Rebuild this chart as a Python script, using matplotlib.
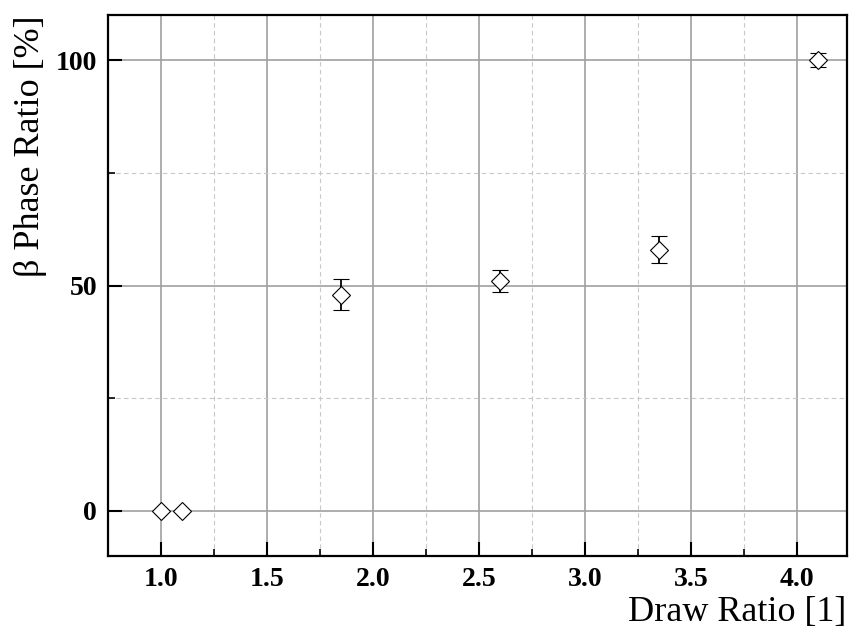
import numpy as np
import matplotlib.pyplot as plt
from matplotlib.ticker import MultipleLocator

# data
draw_ratio = [1.0, 1.1, 1.85, 2.6, 3.35, 4.1]
beta_phase = [0, 0, 48, 51, 58, 100]
beta_err = [0, 0, 3.5, 2.5, 3.0, 1.5]

plt.rcParams['font.family'] = ['Liberation Serif', 'DejaVu Serif']

fig = plt.figure(figsize=(8.51, 6.29), dpi=100)
ax = fig.add_axes([0.127, 0.116, 0.868, 0.860])

ax.errorbar(draw_ratio, beta_phase, yerr=beta_err, fmt='D', markersize=9,
            markerfacecolor='white', markeredgecolor='black', markeredgewidth=0.8,
            ecolor='black', elinewidth=1.3, capsize=5.5, capthick=2.2, zorder=3)

ax.set_xlim(0.75, 4.235)
ax.set_ylim(-10, 110)
ax.xaxis.set_major_locator(MultipleLocator(0.5))
ax.xaxis.set_minor_locator(MultipleLocator(0.25))
ax.yaxis.set_major_locator(MultipleLocator(50))
ax.yaxis.set_minor_locator(MultipleLocator(25))
ax.xaxis.set_major_formatter(plt.FormatStrFormatter('%.1f'))

ax.grid(which='major', color='#a0a0a0', linewidth=1.2, linestyle='-')
ax.grid(which='minor', color='#c8c8c8', linewidth=0.8, linestyle=(0, (4, 3)))
ax.set_axisbelow(True)

ax.tick_params(which='major', direction='in', length=10, width=1.5, labelsize=20, pad=8)
ax.tick_params(which='minor', direction='in', length=5, width=1.2)
ax.tick_params(top=False, right=False)
for lab in ax.get_xticklabels() + ax.get_yticklabels():
    lab.set_fontweight('bold')
for s in ax.spines.values():
    s.set_linewidth(1.6)

ax.set_xlabel('Draw Ratio [1]', fontsize=26, loc='right', labelpad=3)
ax.set_ylabel('β Phase Ratio [%]', fontsize=26, loc='top', labelpad=6)

fig.savefig('out.png', dpi=100)
